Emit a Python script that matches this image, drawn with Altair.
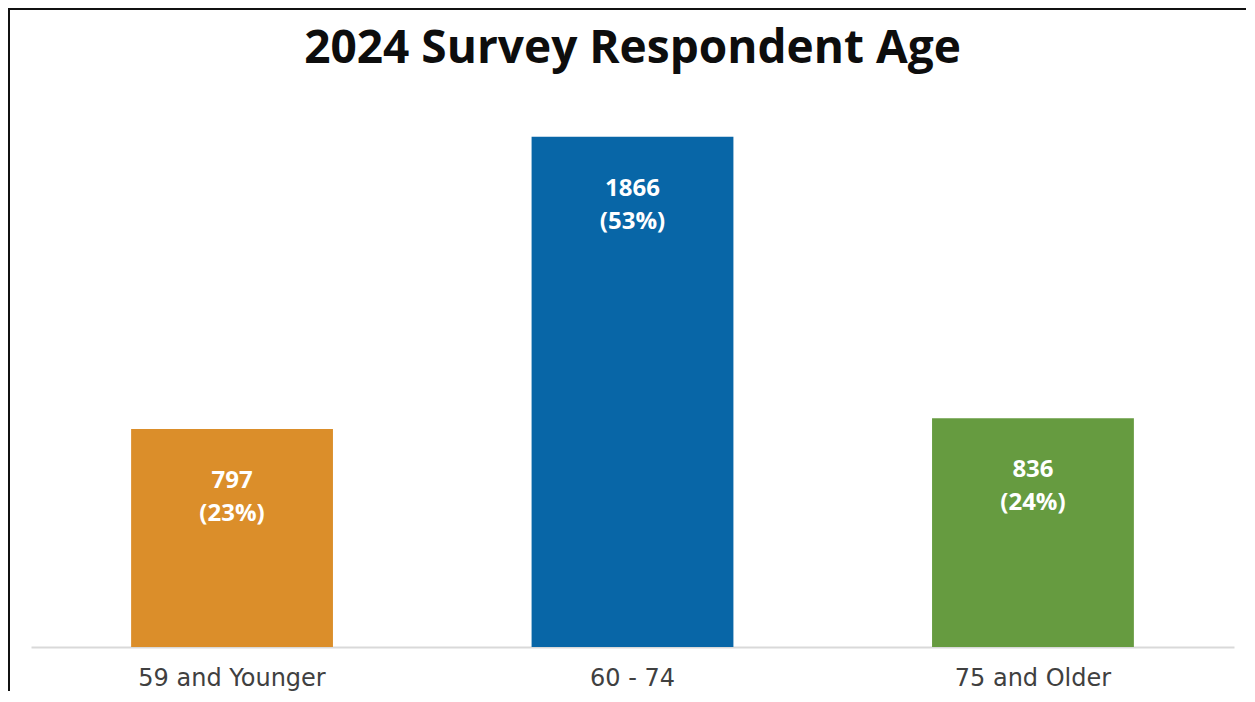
import altair as alt
import pandas as pd

categories = ["59 and Younger", "60 - 74", "75 and Older"]
counts = [797, 1866, 836]
percents = [23, 53, 24]
bar_colors = ["#DB8E2A", "#0866A7", "#669B40"]

df = pd.DataFrame({"cat": categories, "count": counts, "pct": percents})

x_enc = alt.X(
    "cat:N",
    sort=categories,
    scale=alt.Scale(paddingInner=0.496, paddingOuter=0.25),
    axis=alt.Axis(
        title=None, labelAngle=0, labelFont="DejaVu Sans", labelFontSize=24,
        labelColor="#404040", labelPadding=19, labelLimit=400,
        domainColor="#d9d9d9", domainWidth=2, ticks=False, grid=False,
    ),
)
y_enc = alt.Y("count:Q", scale=alt.Scale(domain=[0, 2000]), axis=None)

base = alt.Chart(df)

bars = base.mark_bar().encode(
    x=x_enc,
    y=y_enc,
    color=alt.Color("cat:N", scale=alt.Scale(domain=categories, range=bar_colors), legend=None),
)

labels = base.transform_calculate(
    label="datum.count + '\\n(' + datum.pct + '%)'"
).mark_text(
    baseline="top", dy=40, color="white", font="Open Sans", fontWeight="bold",
    fontSize=24, lineBreak="\n", lineHeight=33,
).encode(x=x_enc, y=y_enc, text="label:N")

frame_df = pd.DataFrame({"k": [0]})
top_line = alt.Chart(frame_df).mark_rule(color="#111111", strokeWidth=2).encode(
    x=alt.value(-23), x2=alt.value(1240), y=alt.value(-91)
)
left_line = alt.Chart(frame_df).mark_rule(color="#111111", strokeWidth=2).encode(
    x=alt.value(-22), y=alt.value(-92), y2=alt.value(600)
)

chart = alt.layer(bars, labels, top_line, left_line).properties(
    width=1203,
    height=547,
    background="white",
    title=alt.TitleParams(
        "2024 Survey Respondent Age", font="Open Sans", fontWeight="bold",
        fontSize=46, color="#0d0d0d", anchor="middle", baseline="alphabetic",
        offset=-102,
    ),
    autosize=alt.AutoSizeParams(type="none"),
    padding={"left": 23, "top": 92, "right": 12, "bottom": 44},
).configure_view(stroke="transparent", strokeWidth=0)

chart.save("out.html", embed_options={"renderer": "svg", "actions": False})
